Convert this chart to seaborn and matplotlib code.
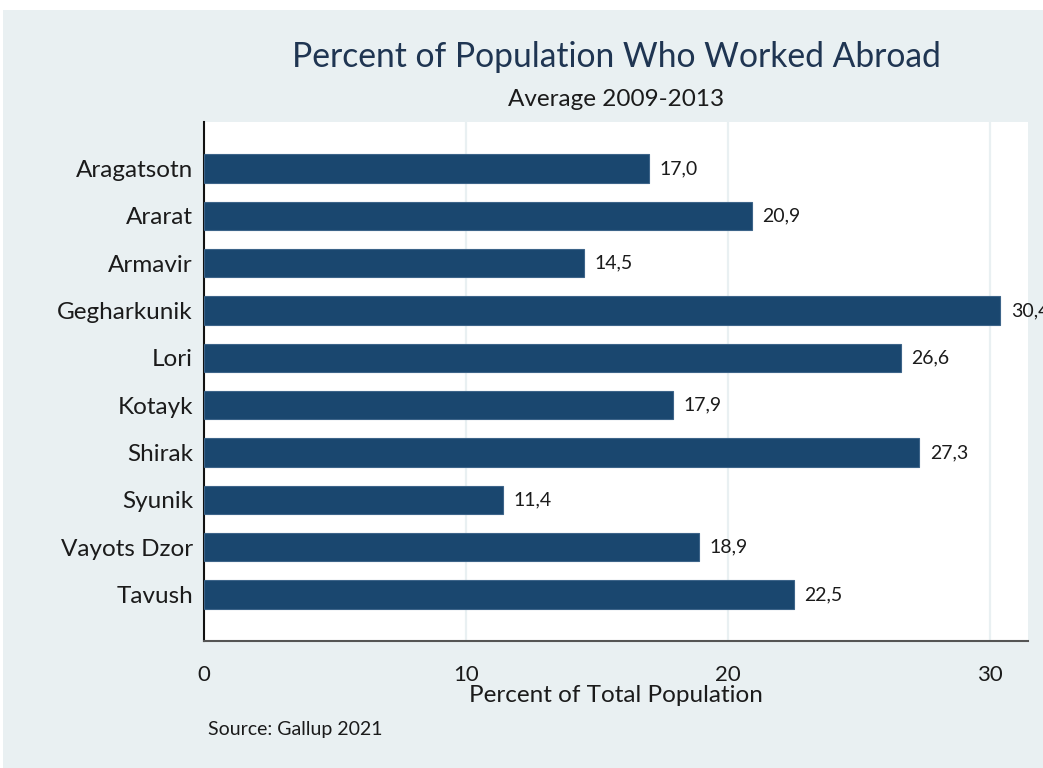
import matplotlib
matplotlib.use("Agg")
import matplotlib.pyplot as plt
import seaborn as sns
import pandas as pd

regions = ["Aragatsotn", "Ararat", "Armavir", "Gegharkunik", "Lori",
           "Kotayk", "Shirak", "Syunik", "Vayots Dzor", "Tavush"]
worked_abroad = [17.0, 20.9, 14.5, 30.4, 26.6, 17.9, 27.3, 11.4, 18.9, 22.5]
x_ticks = [0, 10, 20, 30]

title = "Percent of Population Who Worked Abroad"
subtitle = "Average 2009-2013"
x_label = "Percent of Total Population"
source_note = "Source: Gallup 2021"

BAR = "#1a476f"
BG = "#e9f0f2"
TEXT = "#1b1b1b"
TITLE_C = "#1f3552"

sns.set_style("white")
plt.rcParams["font.family"] = ["Lato", "DejaVu Sans"]

df = pd.DataFrame({"region": regions, "value": worked_abroad})

fig = plt.figure(figsize=(10.43, 7.68), dpi=100, facecolor="white")
# light panel behind the whole graph, leaving a thin white margin top/left
panel = plt.Rectangle((3 / 1043, 0), 1, 1 - 10 / 768,
                      transform=fig.transFigure, facecolor=BG,
                      edgecolor="none", zorder=-5)
fig.add_artist(panel)

ax = fig.add_axes([204 / 1043, 1 - 641 / 768, (1028 - 204) / 1043, (641 - 122) / 768])
ax.set_facecolor("white")

sns.barplot(data=df, x="value", y="region", orient="h", color=BAR,
            width=0.6, edgecolor="#3d6489", linewidth=0.8, saturation=1, ax=ax,
            zorder=3)

ax.set_xlim(0, 31.45)
ax.set_ylim(len(regions) - 1 + 0.98, -0.98)
ax.set_xticks(x_ticks)
ax.set_xticklabels([str(t) for t in x_ticks], fontsize=16, color=TEXT)
ax.tick_params(axis="x", length=7, width=1.5, color="#555555", pad=10, direction="out")
ax.tick_params(axis="y", length=0, pad=8, labelsize=17.5, labelcolor=TEXT)
ax.set_ylabel("")
ax.set_xlabel("")

for t in x_ticks[1:]:
    ax.axvline(t, color=BG, lw=1.6, zorder=1)

for s in ["top", "right"]:
    ax.spines[s].set_visible(False)
ax.spines["left"].set_color("#111111")
ax.spines["left"].set_linewidth(1.5)
ax.spines["bottom"].set_color("#555555")
ax.spines["bottom"].set_linewidth(1.5)

for i, v in enumerate(worked_abroad):
    ax.text(v + 0.4, i, f"{v:.1f}".replace(".", ","), va="center", ha="left",
            fontsize=14, color=TEXT, zorder=4, clip_on=False)

cx = (204 + 1028) / 2 / 1043
fig.text(cx, 1 - 57 / 768, title, ha="center", va="center",
         fontsize=24.2, color=TITLE_C)
fig.text(cx, 1 - 100 / 768, subtitle, ha="center", va="center",
         fontsize=17.5, color=TEXT)
fig.text(cx, 1 - 695 / 768, x_label, ha="center", va="center",
         fontsize=17.5, color=TEXT)
fig.text(208 / 1043, 1 - 730 / 768, source_note, ha="left", va="center",
         fontsize=14, color=TEXT)

fig.savefig("out.png", dpi=100, facecolor="white")
